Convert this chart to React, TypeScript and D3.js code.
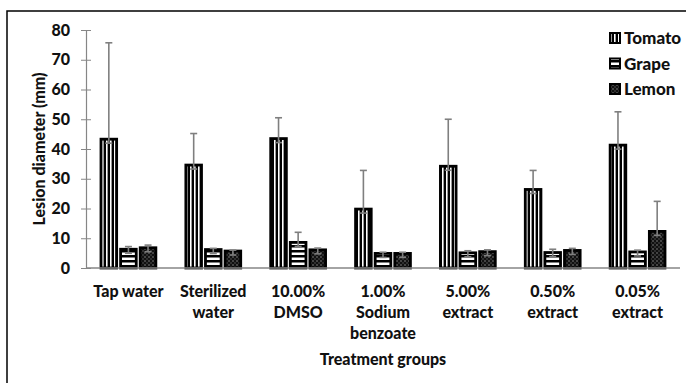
import React, { useEffect, useRef } from "react";
import * as d3 from "d3";

const categories = [
  ["Tap water"],
  ["Sterilized", "water"],
  ["10.00%", "DMSO"],
  ["1.00%", "Sodium", "benzoate"],
  ["5.00%", "extract"],
  ["0.50%", "extract"],
  ["0.05%", "extract"],
];
const seriesNames = ["Tomato", "Grape", "Lemon"];
const tomato = [43.3, 34.6, 43.5, 19.8, 34.2, 26.4, 41.3];
const tomatoErr = [32.4, 10.6, 7.0, 13.0, 15.8, 6.4, 11.2];
const grape = [6.3, 6.2, 8.6, 4.9, 5.1, 5.2, 5.4];
const grapeErr = [0.9, 0.4, 3.4, 0.4, 0.7, 1.1, 0.6];
const lemon = [6.8, 5.7, 6.1, 4.9, 5.5, 5.9, 12.3];
const lemonErr = [0.9, 0.3, 0.6, 0.4, 0.6, 0.7, 10.1];
const yTicks = [0, 10, 20, 30, 40, 50, 60, 70, 80];

const FONT = "Lato, 'Open Sans', sans-serif";

export default function App() {
  const ref = useRef<SVGSVGElement>(null);

  useEffect(() => {
    if (!ref.current) return;
    const svg = d3.select(ref.current);
    svg.selectAll("*").remove();

    const width = 686;
    const height = 383;
    const left = 86, right = 680, top = 30, bottom = 268;

    const values = [tomato, grape, lemon];
    const errs = [tomatoErr, grapeErr, lemonErr];
    const keys = categories.map((c) => c.join(" "));

    // patterns
    const defs = svg.append("defs");
    const pv = defs.append("pattern").attr("id", "p-tomato")
      .attr("patternUnits", "userSpaceOnUse").attr("width", 4).attr("height", 4);
    pv.append("rect").attr("width", 4).attr("height", 4).attr("fill", "#fff");
    pv.append("rect").attr("x", 0).attr("width", 2).attr("height", 4).attr("fill", "#000");
    pv.append("rect").attr("x", 3).attr("width", 1).attr("height", 4).attr("fill", "#999");

    const ph = defs.append("pattern").attr("id", "p-grape")
      .attr("patternUnits", "userSpaceOnUse").attr("width", 4).attr("height", 5);
    ph.append("rect").attr("width", 4).attr("height", 5).attr("fill", "#fff");
    ph.append("rect").attr("y", 0).attr("width", 4).attr("height", 2.5).attr("fill", "#000");

    const pd = defs.append("pattern").attr("id", "p-lemon")
      .attr("patternUnits", "userSpaceOnUse").attr("width", 4).attr("height", 4);
    pd.append("rect").attr("width", 4).attr("height", 4).attr("fill", "#111");
    pd.append("rect").attr("x", 0.5).attr("y", 0.5).attr("width", 1).attr("height", 1).attr("fill", "#ddd");
    pd.append("rect").attr("x", 2.5).attr("y", 2.5).attr("width", 1).attr("height", 1).attr("fill", "#888");

    const fills = ["url(#p-tomato)", "url(#p-grape)", "url(#p-lemon)"];

    // outer border
    svg.append("rect").attr("x", 7).attr("y", 11)
      .attr("width", width + 20).attr("height", height + 20)
      .attr("fill", "none").attr("stroke", "#000").attr("stroke-width", 1.5);

    const x0 = d3.scaleBand().domain(keys).range([left, right]).paddingInner(0.33).paddingOuter(0.165);
    const x1 = d3.scaleBand().domain(seriesNames).range([0, x0.bandwidth()]).paddingInner(0.1);
    const y = d3.scaleLinear().domain([0, 80]).range([bottom, top]);

    // y axis
    const gy = svg.append("g").attr("transform", `translate(${left},0)`)
      .call(d3.axisLeft(y).tickValues(yTicks).tickSizeInner(5).tickSizeOuter(0).tickPadding(11));
    gy.select(".domain").attr("stroke", "#868686").attr("stroke-width", 1.2);
    gy.selectAll(".tick line").attr("stroke", "#868686").attr("x1", 5).attr("x2", -5);
    gy.selectAll(".tick text").attr("font-family", FONT).attr("font-weight", 900)
      .attr("font-size", 16).attr("fill", "#111");

    // bars
    seriesNames.forEach((s, si) => {
      const g = svg.append("g");
      g.selectAll("rect").data(values[si]).join("rect")
        .attr("x", (_, i) => (x0(keys[i]) as number) + (x1(s) as number) + 1)
        .attr("y", (d) => y(d))
        .attr("width", x1.bandwidth() - 2)
        .attr("height", (d) => y(0) - y(d))
        .attr("fill", fills[si]).attr("stroke", "#000").attr("stroke-width", 2.8);
    });

    // x axis line
    svg.append("line").attr("x1", left).attr("x2", right).attr("y1", y(0)).attr("y2", y(0))
      .attr("stroke", "#868686").attr("stroke-width", 1.5);

    // error bars
    seriesNames.forEach((s, si) => {
      const g = svg.append("g").attr("stroke", "#7f7f7f").attr("stroke-width", 1.6);
      values[si].forEach((v, i) => {
        const cx = (x0(keys[i]) as number) + (x1(s) as number) + x1.bandwidth() / 2;
        const yt = y(v + errs[si][i]);
        const yb = y(v) + 4;
        g.append("line").attr("x1", cx).attr("x2", cx).attr("y1", yt).attr("y2", yb);
        g.append("line").attr("x1", cx - 3.5).attr("x2", cx + 3.5).attr("y1", yt).attr("y2", yt);
        g.append("line").attr("x1", cx - 3.5).attr("x2", cx + 3.5).attr("y1", yb).attr("y2", yb);
      });
    });

    const textStyle = (t: any, size = 16) =>
      t.attr("font-family", FONT).attr("font-weight", 900).attr("font-size", size).attr("fill", "#111");

    // category labels
    categories.forEach((lines, i) => {
      const cx = (x0(keys[i]) as number) + x0.bandwidth() / 2;
      const t = textStyle(svg.append("text").attr("text-anchor", "middle"));
      lines.forEach((l, li) => {
        t.append("tspan").attr("x", cx).attr("y", 297 + li * 21).text(l);
      });
    });

    // axis titles
    textStyle(svg.append("text").attr("x", (left + right) / 2).attr("y", 365).attr("text-anchor", "middle"))
      .text("Treatment groups");
    textStyle(svg.append("text").attr("transform", `translate(45,${(top + bottom) / 2}) rotate(-90)`)
      .attr("text-anchor", "middle"))
      .text("Lesion diameter (mm)");

    // legend
    seriesNames.forEach((s, si) => {
      const ly = 38 + si * 25.5;
      svg.append("rect").attr("x", 610).attr("y", ly - 5).attr("width", 10).attr("height", 10)
        .attr("fill", fills[si]).attr("stroke", "#000").attr("stroke-width", 2);
      textStyle(svg.append("text").attr("x", 624).attr("y", ly + 6), 17).text(s);
    });
  }, []);

  return (
    <svg ref={ref} width={686} height={383}
      style={{ position: "absolute", left: 0, top: 0, background: "#fff" }} />
  );
}
